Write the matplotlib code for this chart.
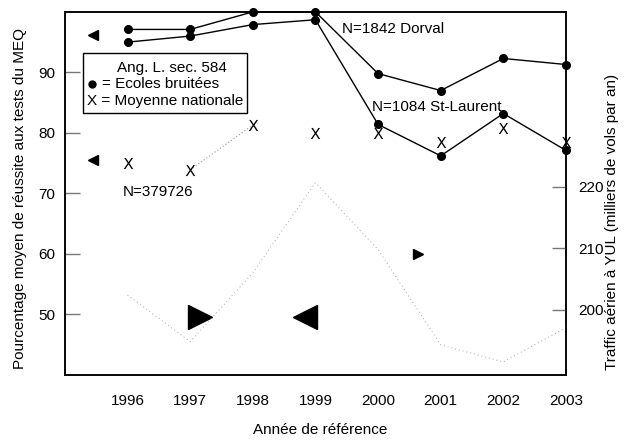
import matplotlib.pyplot as plt
from matplotlib.patches import Rectangle

plt.rcParams['font.family'] = ['Liberation Sans', 'DejaVu Sans']

# données
annees = [1996, 1997, 1998, 1999, 2000, 2001, 2002, 2003]
dorval = [97.1, 97.1, 100.0, 100.0, 89.8, 87.0, 92.3, 91.3]
st_laurent = [95.0, 96.0, 97.9, 98.7, 81.4, 76.2, 83.2, 77.1]
nationale = [75.0, 73.9, 81.3, 80.0, 80.0, 78.5, 80.8, 78.5]
trafic = [202.4, 194.8, 206.0, 220.7, 209.8, 194.3, 191.5, 197.1]

# triangles visibles sur le document
tri_gauche_x = [1995.45, 1995.45, 1998.83]
tri_gauche_y = [96.1, 75.5, 49.5]
tri_gauche_taille = [7, 7, 17]
tri_droite_x = [1997.15, 2000.63]
tri_droite_y = [49.5, 59.9]
tri_droite_taille = [17, 7]


def main():
    fig = plt.figure(figsize=(6.24, 4.40), dpi=100)
    ax1 = fig.add_axes([0.104, 0.148, 0.803, 0.825])
    ax2 = ax1.twinx()

    # trafic aérien (axe de droite), trait pâle en pointillé
    ax2.plot(annees, trafic, color='#a8a8a8', linestyle=(0, (1, 3)), linewidth=0.7)
    ax2.set_ylim(189.4, 248.5)
    ax2.set_yticks([200, 210, 220])
    ax2.tick_params(axis='y', direction='in', length=10, width=1, color='#777777',
                    pad=9, labelsize=11)

    # écoles bruitées
    ax1.plot(annees, dorval, color='black', linewidth=1, marker='o', markersize=5.5,
             clip_on=False, zorder=5)
    ax1.plot(annees, st_laurent, color='black', linewidth=1, marker='o', markersize=5.5,
             clip_on=False, zorder=5)

    # moyenne nationale
    ax1.plot(annees[1:3], nationale[1:3], color='#999999', linestyle=(0, (1, 2)),
             linewidth=0.8)
    ax1.plot(annees, nationale, linestyle='none', marker=r'$\mathsf{X}$', markersize=8,
             markeredgewidth=0, color='black', clip_on=False, zorder=6)

    for x, y, s in zip(tri_gauche_x, tri_gauche_y, tri_gauche_taille):
        ax1.plot(x, y, marker='<', markersize=s, color='black', linestyle='none')
    for x, y, s in zip(tri_droite_x, tri_droite_y, tri_droite_taille):
        ax1.plot(x, y, marker='>', markersize=s, color='black', linestyle='none')

    ax1.set_xlim(1995, 2003)
    ax1.set_ylim(40, 100)
    ax1.set_xticks(annees)
    ax1.set_yticks([50, 60, 70, 80, 90])
    ax1.tick_params(axis='y', direction='in', length=11, width=1, color='#777777',
                    pad=7, labelsize=11)
    ax1.tick_params(axis='x', direction='in', length=0, pad=14, labelsize=11)

    for sp in ax1.spines.values():
        sp.set_linewidth(1.1)
    for sp in ax2.spines.values():
        sp.set_linewidth(1.1)

    # étiquettes des séries
    ax1.text(1999.43, 97.25, 'N=1842 Dorval', fontsize=11, va='center')
    ax1.text(1999.91, 84.2, 'N=1084 St-Laurent', fontsize=11, va='center')
    ax1.text(1995.93, 70.2, 'N=379726', fontsize=11, va='center')

    # encadré de légende
    ax1.add_patch(Rectangle((0.036, 0.722), 0.327, 0.165, transform=ax1.transAxes,
                            fill=True, facecolor='white', edgecolor='black',
                            linewidth=1, zorder=7))
    ax1.text(0.213, 0.845, 'Ang. L. sec. 584', transform=ax1.transAxes, fontsize=11,
             ha='center', va='center', zorder=8)
    ax1.plot([0.055], [0.8], marker='o', markersize=5, color='black',
             transform=ax1.transAxes, zorder=8)
    ax1.text(0.075, 0.8, '= Ecoles bruitées', transform=ax1.transAxes, fontsize=11,
             va='center', zorder=8)
    ax1.text(0.045, 0.755, 'X = Moyenne nationale', transform=ax1.transAxes,
             fontsize=11, va='center', zorder=8)

    # titres des axes
    fig.text(0.032, 0.548, 'Pourcentage moyen de réussite aux tests du MEQ',
             rotation=90, ha='center', va='center', fontsize=11)
    fig.text(0.981, 0.495, 'Traffic aérien à YUL (milliers de vols par an)',
             rotation=90, ha='center', va='center', fontsize=11)
    fig.text(0.513, 0.023, 'Année de référence', ha='center', va='center', fontsize=11)

    fig.savefig('out.png', dpi=100)


if __name__ == "__main__":
    main()
